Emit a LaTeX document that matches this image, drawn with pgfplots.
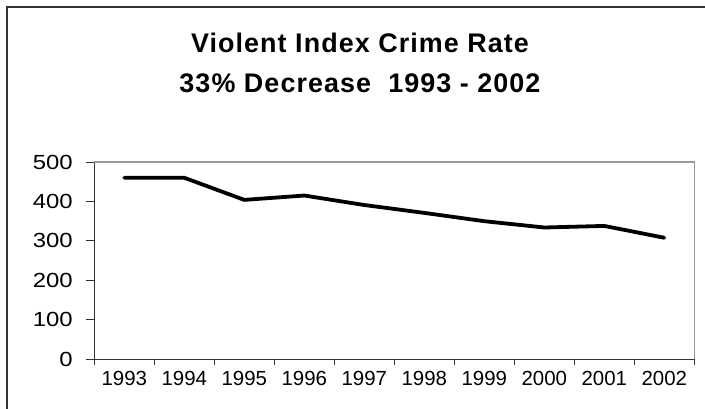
\documentclass[border=0pt]{standalone}
\usepackage{fontspec}
\setmainfont{Liberation Sans}
\newfontfamily\titlefont[LetterSpace=4]{Liberation Sans}
\usepackage{graphicx}
\usepackage{pgfplots}
\usepackage{pgfplotstable}
\pgfplotsset{compat=1.18}
\definecolor{axisdark}{HTML}{333333}
\definecolor{bordergray}{HTML}{999999}

% Violent index crime rate per year
\pgfplotstableread{
idx year rate
0 1993 460
1 1994 460
2 1995 404
3 1996 415
4 1997 391
5 1998 371
6 1999 350
7 2000 334
8 2001 338
9 2002 308
}\ratedata

\begin{document}
\begin{tikzpicture}
\begin{axis}[
  at={(94.3bp,49.7bp)}, anchor=south west,
  scale only axis, width=600bp, height=197.3bp,
  xmin=-0.5, xmax=9.5, ymin=0, ymax=500,
  axis lines=left,
  axis line style={-, draw=axisdark, line width=1.2bp},
  tick align=outside,
  xtick={0,...,9},
  xticklabels={1993,1994,1995,1996,1997,1998,1999,2000,2001,2002},
  minor xtick={-0.5,0.5,...,9.5},
  major x tick style={draw=none},
  minor tick length=6bp,
  ytick={0,100,...,500},
  yticklabel={\scalebox{1.17}[1]{\pgfmathprintnumber{\tick}}},
  major tick length=8bp,
  tick style={draw=axisdark, line width=1bp},
  ticklabel style={font=\fontsize{20.5}{24}\selectfont, text=black},
  yticklabel style={xshift=-10bp},
  /pgf/number format/assume math mode=true,
  clip=false,
]
\addplot[black, line width=3.8bp, line cap=round, line join=round]
  table[x=idx, y=rate] {\ratedata};
\draw[bordergray, line width=1.2bp]
  (rel axis cs:0,1) -- (rel axis cs:1,1) -- (rel axis cs:1,0);
\end{axis}

% chart title
\node[anchor=base, font=\titlefont\bfseries\fontsize{27}{30}\selectfont]
  at (360bp,356.5bp) {Violent Index Crime Rate};
\node[anchor=base, font=\titlefont\bfseries\fontsize{27}{30}\selectfont]
  at (360bp,316bp) {33\% Decrease\ \ 1993 - 2002};

% outer chart frame
\draw[axisdark, line width=1.8bp] (7.3bp,-20bp) -- (7.3bp,401.7bp) -- (730bp,401.7bp);

\pgfresetboundingbox
\useasboundingbox (0,0) rectangle (705bp,409bp);
\end{tikzpicture}
\end{document}
